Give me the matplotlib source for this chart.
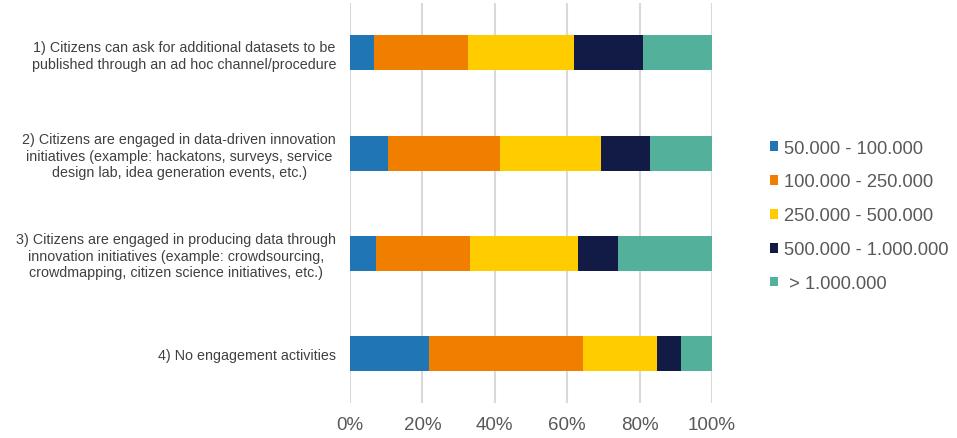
import numpy as np
import matplotlib.pyplot as plt
from matplotlib.ticker import PercentFormatter

plt.rcParams['font.family'] = ['Liberation Sans', 'DejaVu Sans']

categories = ['1) Citizens can ask for additional datasets to be\npublished through an ad hoc channel/procedure',
              '2) Citizens are engaged in data-driven innovation\ninitiatives (example: hackatons, surveys, service\ndesign lab, idea generation events, etc.)',
              '3) Citizens are engaged in producing data through\ninnovation initiatives (example: crowdsourcing,\ncrowdmapping, citizen science initiatives, etc.)',
              '4) No engagement activities']
series_names = ['50.000 - 100.000', '100.000 - 250.000', '250.000 - 500.000',
                '500.000 - 1.000.000', ' > 1.000.000']
s_50_100 = [6.7, 10.5, 7.2, 21.9]
s_100_250 = [25.9, 30.9, 25.9, 42.4]
s_250_500 = [29.4, 27.8, 29.8, 20.4]
s_500_1m = [19.0, 13.7, 11.0, 6.7]
s_1m = [19.0, 17.1, 26.1, 8.6]
colors = ['#2076B4', '#F07F00', '#FFCC00', '#121A46', '#53B09A']

fig = plt.figure(figsize=(9.57, 4.39), dpi=100)
ax = fig.add_axes([0.3657, 0.0797, 0.3783, 0.9112])

y = np.arange(len(categories))
left = np.zeros(len(categories))
for name, vals, c in zip(series_names, [s_50_100, s_100_250, s_250_500, s_500_1m, s_1m], colors):
    vals = np.array(vals)
    ax.barh(y, vals, left=left, height=0.35, color=c, label=name)
    left = left + vals

ax.set_xlim(0, 100)
ax.set_ylim(3.5, -0.5)
ax.set_xticks(np.arange(0, 101, 20))
ax.xaxis.set_major_formatter(PercentFormatter(decimals=0))
ax.set_yticks(y)
ax.set_yticklabels(categories, fontsize=10.25, color='#404040',
                   multialignment='center', linespacing=1.23)
ax.tick_params(axis='x', labelsize=13.5, colors='#595959', length=0, pad=9)
ax.tick_params(axis='y', length=0, pad=10)
for sp in ax.spines.values():
    sp.set_visible(False)
ax.grid(axis='x', color='#D9D9D9', linewidth=1.5)
ax.set_axisbelow(True)

ax.legend(loc='center left', bbox_to_anchor=(1.115, 0.468), frameon=False,
          fontsize=13.2, labelcolor='#595959', handlelength=0.45, handleheight=0.45,
          handletextpad=0.3, labelspacing=0.92)

fig.savefig('out.png', dpi=100)
